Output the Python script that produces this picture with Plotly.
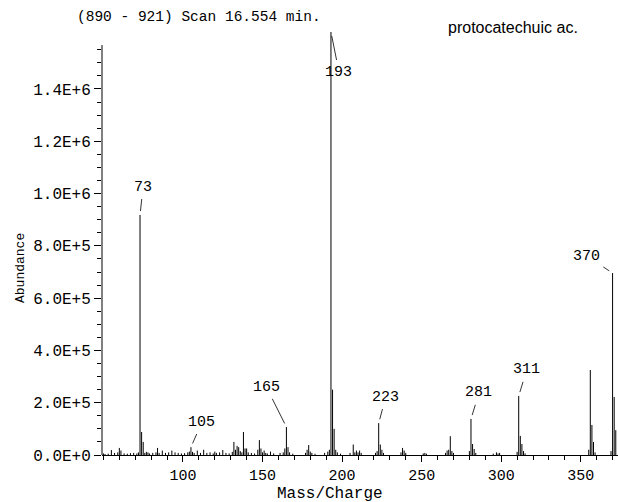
import plotly.graph_objects as go

# ---- data ----
mz = [50, 51, 53, 55, 57, 59, 60, 61, 63, 65, 67, 69, 71, 72, 73, 74, 75, 76, 77, 78, 79,
      81, 83, 84, 85, 87, 89, 91, 93, 95, 97, 99, 101, 103, 104, 105, 106, 107, 109, 111,
      113, 115, 117, 119, 120, 121, 123, 125, 127, 129, 131, 132, 133, 134, 135, 136, 137,
      138, 139, 140, 141, 143, 145, 147, 148, 149, 150, 151, 152, 153, 155, 157, 161, 163,
      164, 165, 166, 167, 169, 177, 178, 179, 180, 181, 183, 189, 191, 192, 193, 194, 195,
      196, 197, 199, 205, 207, 208, 209, 210, 211, 212, 221, 222, 223, 224, 225, 226, 237,
      238, 239, 240, 251, 252, 253, 265, 266, 267, 268, 269, 270, 280, 281, 282, 283, 284,
      295, 297, 298, 299, 310, 311, 312, 313, 314, 315, 355, 356, 357, 358, 359, 369, 370,
      371, 372]
abundance_k = [6, 4, 5, 19, 8, 10, 27, 17, 6, 5, 7, 8, 6, 10, 918, 88, 50, 8, 12, 10, 6,
               8, 10, 27, 8, 17, 8, 10, 17, 10, 8, 6, 7, 10, 13, 30, 12, 8, 17, 8,
               20, 8, 10, 6, 13, 8, 10, 19, 8, 6, 12, 50, 20, 35, 30, 15, 10,
               88, 25, 25, 10, 8, 6, 20, 57, 25, 10, 17, 8, 6, 13, 6, 8, 10,
               25, 107, 30, 10, 5, 8, 20, 38, 13, 8, 5, 8, 13, 20, 1618, 250, 100,
               20, 10, 5, 8, 40, 10, 17, 10, 17, 8, 8, 15, 122, 40, 20, 8, 10,
               27, 17, 8, 6, 8, 5, 8, 17, 20, 72, 15, 8, 15, 138, 42, 23, 8,
               5, 10, 6, 8, 12, 226, 73, 42, 15, 6, 20, 325, 115, 50, 10, 15, 696,
               222, 95]
abundance = [v * 1000 for v in abundance_k]

labeled_mz = [73, 105, 165, 193, 223, 281, 311, 370]

x_tickvals = [100, 150, 200, 250, 300, 350]
x_ticktext = ["100", "150", "200", "250", "300", "350"]
y_tickvals = [0, 200000, 400000, 600000, 800000, 1000000, 1200000, 1400000]
y_ticktext = ["0.0E+0", "2.0E+5", "4.0E+5", "6.0E+5", "8.0E+5", "1.0E+6", "1.2E+6", "1.4E+6"]
y_minor = [i * 50000 for i in range(0, 32)]

title_text = "(890 - 921) Scan 16.554 min."
compound = "protocatechuic ac."
x_title = "Mass/Charge"
y_title = "Abundance"

# ---- build stick spectrum ----
xs, ys = [], []
for m, a in zip(mz, abundance):
    xs += [m, m, None]
    ys += [0, a, None]

MONO = "Liberation Mono"

fig = go.Figure()
fig.add_trace(go.Scatter(x=xs, y=ys, mode="lines",
                         line=dict(color="black", width=1),
                         hoverinfo="skip", showlegend=False))

# label offsets (pixels) for annotated peaks
offsets = {73: (3, -28), 105: (11, -25), 165: (-20, -40), 193: (8, 40),
           223: (7, -26), 281: (8, -26), 311: (8, -26), 370: (-26, -17)}
ab_lookup = dict(zip(mz, abundance))
annotations = []
for m in labeled_mz:
    ax, ay = offsets[m]
    annotations.append(dict(x=m, y=ab_lookup[m], xref="x", yref="y",
                            text=str(m), showarrow=True, arrowhead=0,
                            arrowwidth=0.8, arrowcolor="black",
                            ax=ax, ay=ay, standoff=4, startstandoff=2,
                            font=dict(family=MONO, size=15, color="black")))

annotations.append(dict(text=title_text, xref="paper", yref="paper",
                        x=(75 - 102) / 516, y=1 + (32 - 17) / 423,
                        xanchor="left", yanchor="middle", showarrow=False,
                        font=dict(family=MONO, size=14.5, color="black")))
annotations.append(dict(text=compound, xref="paper", yref="paper",
                        x=(446 - 102) / 516, y=1 + (32 - 27) / 423,
                        xanchor="left", yanchor="middle", showarrow=False,
                        font=dict(family="Liberation Sans", size=16, color="black")))
annotations.append(dict(text=x_title, xref="paper", yref="paper",
                        x=(330 - 102) / 516, y=-(494 - 455) / 423,
                        xanchor="center", yanchor="middle", showarrow=False,
                        font=dict(family=MONO, size=16, color="black")))
annotations.append(dict(text=y_title, xref="paper", yref="paper",
                        x=-(102 - 20) / 516, y=(455 - 268) / 423, textangle=-90,
                        xanchor="center", yanchor="middle", showarrow=False,
                        font=dict(family=MONO, size=13, color="black")))

fig.update_layout(
    width=618, height=502,
    margin=dict(l=102, r=0, t=32, b=47),
    paper_bgcolor="white", plot_bgcolor="white",
    annotations=annotations,
    shapes=[dict(type="line", xref="paper", yref="y", x0=0, x1=0,
                 y0=0, y1=1568000, line=dict(color="black", width=1))],
    xaxis=dict(range=[49.1, 373.4], tickmode="array", tickvals=x_tickvals,
               ticktext=x_ticktext, ticks="outside", ticklen=6, tickcolor="black",
               showline=True, linecolor="black", linewidth=1, showgrid=False,
               zeroline=False,
               minor=dict(dtick=10, tick0=0, ticks="outside", ticklen=4, tickcolor="black"),
               tickfont=dict(family=MONO, size=15, color="black")),
    yaxis=dict(range=[0, 1618000], tickmode="array", tickvals=y_tickvals,
               ticktext=y_ticktext, ticks="outside", ticklen=7, tickcolor="black",
               showline=False, showgrid=False, zeroline=False,
               minor=dict(tickmode="array", tickvals=y_minor, ticks="outside",
                          ticklen=4, tickcolor="black"),
               tickfont=dict(family=MONO, size=16, color="black")),
)

fig.write_html("out.html", config={"displayModeBar": False},
               post_script="document.body.style.margin='0';document.body.style.overflow='hidden';")
